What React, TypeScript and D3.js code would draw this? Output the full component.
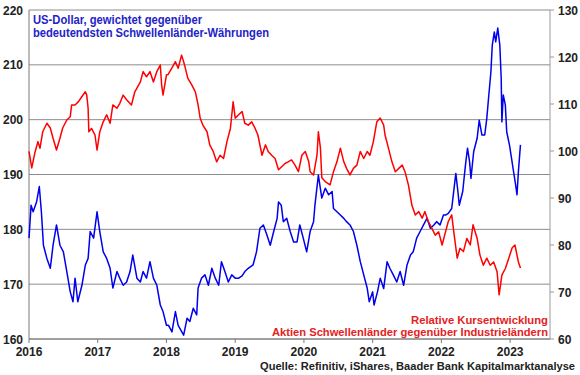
import React from "react";
import * as d3 from "d3";

const yearTicks = [2016, 2017, 2018, 2019, 2020, 2021, 2022, 2023];
const leftTicks = [160, 170, 180, 190, 200, 210, 220];
const rightTicks = [60, 70, 80, 90, 100, 110, 120, 130];

const blueTitle = ["US-Dollar, gewichtet gegenüber", "bedeutendsten Schwellenländer-Währungen"];
const redTitle = ["Relative Kursentwicklung", "Aktien Schwellenländer gegenüber Industrieländern"];
const sourceText = "Quelle: Refinitiv, iShares, Baader Bank Kapitalmarktanalyse";

// US-Dollar index (left axis), decimal years
const blueDates = [
  2016.0, 2016.03, 2016.06, 2016.11, 2016.15, 2016.18, 2016.21, 2016.26, 2016.31, 2016.35,
  2016.4, 2016.45, 2016.5, 2016.55, 2016.6, 2016.64, 2016.67, 2016.71, 2016.77, 2016.82,
  2016.86, 2016.89, 2016.94, 2016.99, 2017.03, 2017.08, 2017.13, 2017.18, 2017.22, 2017.28,
  2017.32, 2017.37, 2017.42, 2017.47, 2017.51, 2017.57, 2017.62, 2017.66, 2017.71, 2017.76,
  2017.81, 2017.86, 2017.91, 2017.95, 2018.0, 2018.03, 2018.08, 2018.13, 2018.17, 2018.25,
  2018.3, 2018.34, 2018.39, 2018.44, 2018.46, 2018.51, 2018.56, 2018.61, 2018.66, 2018.71,
  2018.76, 2018.8, 2018.85, 2018.9, 2018.95, 2019.0, 2019.05, 2019.1, 2019.14, 2019.19,
  2019.26, 2019.31, 2019.36, 2019.41, 2019.46, 2019.51, 2019.56, 2019.61, 2019.63, 2019.67,
  2019.7, 2019.75, 2019.8, 2019.85, 2019.9, 2019.94, 2019.99, 2020.04, 2020.09, 2020.14,
  2020.16, 2020.21, 2020.26, 2020.31, 2020.36, 2020.41, 2020.43, 2020.48, 2020.53, 2020.58,
  2020.62, 2020.67, 2020.72, 2020.77, 2020.82, 2020.87, 2020.92, 2020.95, 2021.0, 2021.02,
  2021.07, 2021.11, 2021.16, 2021.21, 2021.25, 2021.3, 2021.35, 2021.4, 2021.45, 2021.5,
  2021.55, 2021.59, 2021.64, 2021.69, 2021.74, 2021.79, 2021.84, 2021.89, 2021.93, 2021.98,
  2022.03, 2022.06, 2022.1, 2022.15, 2022.19, 2022.21, 2022.24, 2022.26, 2022.31, 2022.35,
  2022.38, 2022.41, 2022.43, 2022.47, 2022.52, 2022.55, 2022.59, 2022.63, 2022.66, 2022.69,
  2022.72, 2022.74, 2022.77, 2022.79, 2022.82, 2022.85, 2022.87, 2022.88, 2022.9, 2022.93,
  2022.95, 2022.99, 2023.02, 2023.05, 2023.08, 2023.1, 2023.12, 2023.15,
];
const blueValues = [
  178.4, 184.4, 183.2, 185.0, 187.8, 183.2, 177.1, 174.7, 172.9, 177.1,
  180.8, 177.1, 175.9, 172.3, 168.6, 166.8, 171.1, 166.8, 169.8, 173.5,
  174.7, 179.6, 178.4, 183.2, 179.6, 175.9, 174.7, 172.9, 169.3, 172.3,
  171.1, 169.8, 170.4, 172.3, 175.3, 171.1, 170.4, 172.3, 171.1, 174.1,
  171.1, 169.8, 166.2, 165.0, 162.5, 162.5, 161.3, 165.0, 162.5, 160.7,
  163.8, 163.2, 165.6, 164.4, 169.3, 171.1, 171.7, 169.8, 172.9, 171.1,
  169.8, 174.1, 172.3, 170.4, 171.7, 171.1, 171.1, 171.5, 172.3, 172.9,
  173.5, 175.9, 180.2, 180.8, 179.0, 177.1, 179.6, 182.0, 185.0, 184.4,
  181.4, 182.0, 179.6, 177.7, 177.7, 180.8, 178.4, 175.9, 179.6, 181.4,
  184.4, 189.9, 185.7, 187.5, 186.3, 186.9, 183.8, 183.2, 182.6, 182.0,
  181.4, 180.8, 179.6, 177.1, 174.1, 171.7, 169.3, 166.8, 168.6, 166.2,
  168.6, 171.1, 169.2, 174.1, 172.9, 171.7, 170.4, 172.3, 169.8, 173.5,
  175.3, 175.9, 178.4, 179.6, 180.8, 182.0, 180.2, 180.8, 181.4, 180.8,
  182.6, 182.6, 182.9, 183.8, 188.1, 190.2, 186.9, 184.4, 186.9, 191.7,
  194.8, 192.3, 189.3, 194.2, 196.6, 199.9, 197.2, 197.2, 200.2, 204.5,
  208.7, 213.6, 216.0, 214.2, 216.7, 213.6, 207.5, 199.6, 204.5, 202.7,
  197.8, 195.4, 193.0, 190.5, 188.1, 186.3, 190.5, 195.4,
];

// Relative performance EM vs. developed equities (right axis)
const redDates = [
  2016.0, 2016.04, 2016.09, 2016.13, 2016.16, 2016.2, 2016.26, 2016.31, 2016.35, 2016.4,
  2016.45, 2016.49, 2016.55, 2016.6, 2016.62, 2016.67, 2016.72, 2016.77, 2016.82, 2016.84,
  2016.86, 2016.87, 2016.91, 2016.96, 2016.99, 2017.03, 2017.08, 2017.13, 2017.18, 2017.22,
  2017.28, 2017.32, 2017.37, 2017.42, 2017.49, 2017.54, 2017.62, 2017.66, 2017.71, 2017.76,
  2017.81, 2017.86, 2017.91, 2017.93, 2017.95, 2018.0, 2018.02, 2018.08, 2018.13, 2018.17,
  2018.22, 2018.25, 2018.27, 2018.31, 2018.37, 2018.42, 2018.46, 2018.49, 2018.53, 2018.59,
  2018.63, 2018.68, 2018.73, 2018.78, 2018.83, 2018.88, 2018.93, 2018.97, 2019.0, 2019.05,
  2019.1, 2019.14, 2019.19, 2019.24, 2019.29, 2019.33, 2019.39, 2019.44, 2019.48, 2019.53,
  2019.58, 2019.63, 2019.68, 2019.73, 2019.77, 2019.82, 2019.87, 2019.92, 2019.97, 2020.02,
  2020.07, 2020.09, 2020.14, 2020.19, 2020.21, 2020.24, 2020.26, 2020.31, 2020.38, 2020.43,
  2020.48, 2020.53, 2020.58, 2020.62, 2020.67, 2020.72, 2020.77, 2020.82, 2020.87, 2020.92,
  2020.96, 2021.01, 2021.06, 2021.11, 2021.16, 2021.18, 2021.23, 2021.28, 2021.33, 2021.38,
  2021.43, 2021.47, 2021.52, 2021.57, 2021.62, 2021.67, 2021.72, 2021.76, 2021.81, 2021.86,
  2021.91, 2021.96, 2022.01, 2022.06, 2022.1, 2022.15, 2022.18, 2022.23, 2022.27, 2022.32,
  2022.37, 2022.42, 2022.46, 2022.52, 2022.56, 2022.61, 2022.66, 2022.71, 2022.76, 2022.81,
  2022.84, 2022.88, 2022.93, 2022.98, 2023.03, 2023.07, 2023.12, 2023.15,
];
const redValues = [
  99.9, 96.4, 99.9, 102.0, 100.6, 104.1, 105.9, 104.9, 102.7, 100.2,
  102.7, 104.9, 106.6, 107.3, 109.8, 109.8, 110.5, 111.6, 112.6, 111.9,
  109.1, 104.1, 104.8, 103.4, 100.2, 104.1, 106.2, 107.7, 105.9, 109.8,
  109.1, 110.1, 111.9, 110.9, 109.8, 112.6, 114.7, 116.9, 115.8, 116.9,
  114.7, 116.9, 118.3, 114.0, 111.9, 116.2, 116.2, 117.7, 119.0, 117.6,
  120.4, 119.0, 117.9, 115.5, 114.0, 112.6, 109.8, 107.0, 105.5, 104.1,
  101.3, 99.9, 97.7, 99.1, 98.4, 102.0, 104.8, 110.5, 107.0, 107.7,
  108.4, 105.9, 105.5, 106.2, 104.8, 103.4, 99.1, 101.3, 99.9, 99.1,
  98.4, 96.0, 96.7, 97.4, 97.7, 98.1, 97.0, 95.6, 99.1, 99.9,
  97.7, 95.6, 94.9, 99.1, 104.1, 100.6, 94.3, 93.5, 92.8, 95.6,
  97.7, 100.6, 97.7, 96.3, 94.9, 96.3, 97.0, 99.9, 98.4, 99.9,
  99.1, 102.0, 106.2, 107.0, 105.5, 103.4, 100.6, 97.7, 95.6, 96.3,
  97.0, 95.6, 92.8, 88.5, 86.4, 87.1, 85.7, 87.1, 85.0, 83.6,
  82.1, 82.8, 80.0, 82.8, 85.0, 86.4, 82.8, 77.2, 79.3, 78.6,
  81.4, 80.0, 84.3, 81.4, 77.9, 75.7, 77.2, 75.7, 76.4, 74.3,
  69.4, 73.6, 75.0, 77.2, 79.4, 80.0, 76.4, 75.1,
];

const W = 580;
const H = 375;
const M = { left: 29, right: 550, top: 10, bottom: 339 };
const FONT = "'Liberation Sans', Arial, sans-serif";

export default function App() {
  const x = d3.scaleLinear().domain([2016, 2023.58]).range([M.left, M.right]);
  const yL = d3.scaleLinear().domain([160, 220]).range([M.bottom, M.top]);
  const yR = d3.scaleLinear().domain([60, 130]).range([M.bottom, M.top]);

  const blueLine = d3
    .line<number>()
    .x((_, i) => x(blueDates[i]))
    .y((d) => yL(d));
  const redLine = d3
    .line<number>()
    .x((_, i) => x(redDates[i]))
    .y((d) => yR(d));

  return (
    <svg
      width={W}
      height={H}
      style={{ position: "absolute", left: 0, top: 0, display: "block", background: "#fff" }}
      fontFamily={FONT}
    >
      {/* grid lines */}
      {leftTicks.map((t) => (
        <line key={"g" + t} x1={M.left} x2={M.right} y1={yL(t)} y2={yL(t)} stroke="#8c8c8c" strokeWidth={1} />
      ))}
      {/* axes */}
      <line x1={M.left} x2={M.left} y1={M.top} y2={M.bottom} stroke="#7a7a7a" strokeWidth={1} />
      <line x1={M.right} x2={M.right} y1={M.top} y2={M.bottom} stroke="#9a9a9a" strokeWidth={1} />
      <line x1={M.left} x2={M.right} y1={M.bottom} y2={M.bottom} stroke="#7a7a7a" strokeWidth={1} />
      {yearTicks.map((t) => (
        <line key={"xt" + t} x1={x(t)} x2={x(t)} y1={M.bottom} y2={M.bottom + 4} stroke="#7a7a7a" />
      ))}
      {rightTicks.map((t) => (
        <line key={"rt" + t} x1={M.right} x2={M.right + 4} y1={yR(t)} y2={yR(t)} stroke="#9a9a9a" />
      ))}

      {/* tick labels */}
      {leftTicks.map((t) => (
        <text key={"lt" + t} x={23} y={yL(t) + 4.5} textAnchor="end" fontSize={12} fontWeight="bold" fill="#222">
          {t}
        </text>
      ))}
      {rightTicks.map((t) => (
        <text key={"rl" + t} x={558} y={yR(t) + 4.5} textAnchor="start" fontSize={12} fontWeight="bold" fill="#222">
          {t}
        </text>
      ))}
      {yearTicks.map((t) => (
        <text key={"yl" + t} x={x(t)} y={356} textAnchor="middle" fontSize={12} fontWeight="bold" fill="#222">
          {t}
        </text>
      ))}

      {/* series */}
      <path d={blueLine(blueValues) ?? ""} fill="none" stroke="#0000ee" strokeWidth={1.5} strokeLinejoin="round" />
      <path d={redLine(redValues) ?? ""} fill="none" stroke="#ff0000" strokeWidth={1.5} strokeLinejoin="round" />

      {/* annotations */}
      <text x={33} y={24} fontSize={12} fontWeight="bold" fill="#2323c8" textLength={169} lengthAdjust="spacingAndGlyphs">
        {blueTitle[0]}
      </text>
      <text x={33} y={37} fontSize={12} fontWeight="bold" fill="#2323c8" textLength={236} lengthAdjust="spacingAndGlyphs">
        {blueTitle[1]}
      </text>
      <text x={411} y={323.5} fontSize={11} fontWeight="bold" fill="#e42222" textLength={137} lengthAdjust="spacingAndGlyphs">
        {redTitle[0]}
      </text>
      <text x={272} y={335.5} fontSize={11} fontWeight="bold" fill="#e42222" textLength={276} lengthAdjust="spacingAndGlyphs">
        {redTitle[1]}
      </text>
      <text x={260} y={369.5} fontSize={10.5} fontWeight="bold" fill="#222" textLength={315} lengthAdjust="spacingAndGlyphs">
        {sourceText}
      </text>
    </svg>
  );
}
